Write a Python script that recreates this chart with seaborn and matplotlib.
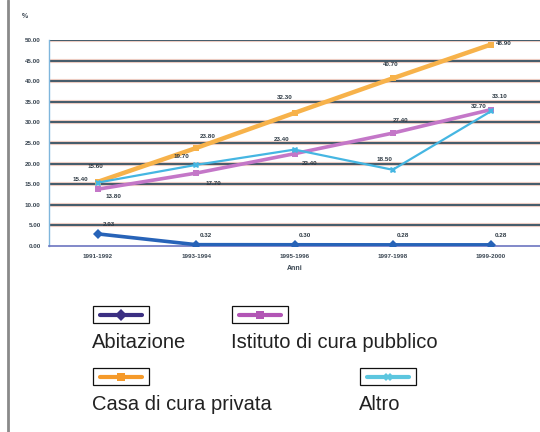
import matplotlib
matplotlib.use("Agg")
import matplotlib.pyplot as plt
from matplotlib.lines import Line2D
from matplotlib.patches import Rectangle
import seaborn as sns
import pandas as pd

# Data (percent)
periods = ["1991-1992", "1993-1994", "1995-1996", "1997-1998", "1999-2000"]
abitazione = [2.93, 0.32, 0.30, 0.28, 0.28]
pubblico = [13.8, 17.7, 22.4, 27.4, 33.1]
privata = [15.6, 23.8, 32.3, 40.7, 48.9]
altro = [15.4, 19.7, 23.4, 18.5, 32.7]
y_ticks = [0, 5, 10, 15, 20, 25, 30, 35, 40, 45, 50]

series_names = ["Abitazione", "Istituto di cura pubblico", "Casa di cura privata", "Altro"]
series_values = [abitazione, pubblico, privata, altro]
line_colors = {"Abitazione": "#2763b8", "Istituto di cura pubblico": "#c477c8",
               "Casa di cura privata": "#f7b24a", "Altro": "#45b6e2"}
legend_colors = {"Abitazione": "#3b2f82", "Istituto di cura pubblico": "#b255b5",
                 "Casa di cura privata": "#f59a2a", "Altro": "#5cc6df"}
markers = {"Abitazione": "D", "Istituto di cura pubblico": "s",
           "Casa di cura privata": "s", "Altro": "X"}
widths = {"Abitazione": 2.6, "Istituto di cura pubblico": 2.6,
          "Casa di cura privata": 3.2, "Altro": 1.6}
# label offsets in pixels (dx, dy) for each point
offsets = {
    "Abitazione": [(11, 9), (10, 9), (10, 9), (10, 9), (10, 9)],
    "Istituto di cura pubblico": [(15, -7), (17, -10), (15, -10), (8, 13), (9, 13)],
    "Casa di cura privata": [(-3, 15), (11, 11), (-10, 15), (-2, 14), (13, 1)],
    "Altro": [(-18, 3), (-15, 8), (-13, 10), (-8, 10), (-12, 5)],
}

rows = []
for name, vals in zip(series_names, series_values):
    for i, v in enumerate(vals):
        rows.append({"Periodo": periods[i], "pos": i, "Serie": name, "Valore": v})
df = pd.DataFrame(rows)

sns.set_style("white")
plt.rcParams["font.family"] = ["Liberation Sans", "DejaVu Sans"]

fig = plt.figure(figsize=(5.4, 4.32), dpi=100)
ax = fig.add_axes([49 / 540, 1 - 246 / 432, (540 - 49) / 540, 206 / 432])

for y in y_ticks[1:]:
    ax.axhline(y, color="#f4d2c6", lw=3.0, zorder=0)
    ax.axhline(y, color="#475d6c", lw=1.5, zorder=1)

for name in series_names:
    sub = df[df["Serie"] == name]
    sns.lineplot(data=sub, x="pos", y="Valore", color=line_colors[name],
                 lw=widths[name], marker=markers[name], markersize=5,
                 markeredgewidth=0, ax=ax, zorder=3, legend=False)
    for i, (xv, yv) in enumerate(zip(sub["pos"], sub["Valore"])):
        dx, dy = offsets[name][i]
        ax.annotate(f"{yv:.2f}", (xv, yv), xytext=(dx, dy), textcoords="offset pixels",
                    ha="center", va="center", fontsize=4.5, color="#2e3a44",
                    fontweight="bold", zorder=4)

ax.set_xlim(-0.5, 4.5)
ax.set_ylim(0, 50)
ax.set_xticks(range(len(periods)))
ax.set_xticklabels(periods, fontsize=4.5, color="#3a4652", fontweight="bold")
ax.set_yticks(y_ticks)
ax.set_yticklabels([f"{t:.2f}" for t in y_ticks], fontsize=4.5, color="#3a4652",
                   fontweight="bold")
ax.tick_params(length=0, pad=6)
ax.set_xlabel("Anni", fontsize=5, color="#3a4652", fontweight="bold", labelpad=4)
ax.set_ylabel("")
for side in ["top", "right"]:
    ax.spines[side].set_visible(False)
ax.spines["left"].set_color("#7fb6dc")
ax.spines["left"].set_linewidth(1.0)
ax.spines["bottom"].set_color("#6c74c0")
ax.spines["bottom"].set_linewidth(1.2)

fig.text(25 / 540, 1 - 17 / 432, "%", fontsize=5, color="#3a4652",
         fontweight="bold", ha="center", va="center")

# left border of the page
fig.add_artist(Line2D([8 / 540, 8 / 540], [0, 1], color="#8a8a8a", lw=2.0))

# legend: boxed swatches with labels beneath
legend_pos = {
    "Abitazione": (93, 306),
    "Istituto di cura pubblico": (232, 306),
    "Casa di cura privata": (93, 368),
    "Altro": (360, 368),
}
box_w, box_h = 56, 17
for name in series_names:
    x0, y0 = legend_pos[name]
    fig.add_artist(Rectangle((x0 / 540, 1 - (y0 + box_h) / 432), box_w / 540, box_h / 432,
                             fill=False, edgecolor="#111111", lw=0.9))
    yc = 1 - (y0 + box_h / 2) / 432
    fig.add_artist(Line2D([(x0 + 7) / 540, (x0 + box_w - 7) / 540], [yc, yc],
                          color=legend_colors[name], lw=3.0))
    fig.add_artist(Line2D([(x0 + box_w / 2) / 540], [yc], color=legend_colors[name],
                          marker=markers[name], markersize=6, markeredgewidth=0))
    fig.text((x0 - 1) / 540, 1 - (y0 + 37) / 432, name, fontsize=14.5,
             color="#222222", ha="left", va="center")

fig.savefig("out.png", dpi=100)
